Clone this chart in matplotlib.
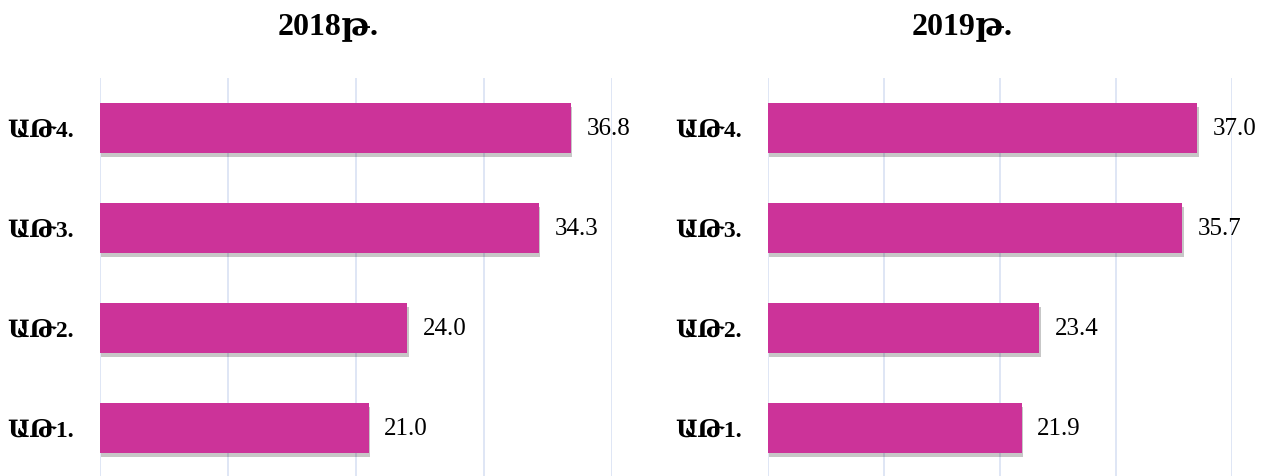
import matplotlib
matplotlib.use("Agg")
import matplotlib.pyplot as plt
import matplotlib.patheffects as pe

# data
categories = ["ԱԹ1.", "ԱԹ2.", "ԱԹ3.", "ԱԹ4."]
values_2018 = [21.0, 24.0, 34.3, 36.8]
values_2019 = [21.9, 23.4, 35.7, 37.0]
titles = ["2018թ.", "2019թ."]
x_ticks = [0, 10, 20, 30, 40]

plt.rcParams["font.family"] = ["Liberation Serif", "DejaVu Serif"]

BAR_COLOR = "#CC3399"
GRID_COLOR = "#D9E2F3"

fig = plt.figure(figsize=(12.66, 4.77), dpi=100)
W, H = 1266, 477

panels = [
    (100, 612, 328, values_2018, titles[0]),
    (768, 1232, 962, values_2019, titles[1]),
]

for x0, x1, tx, vals, title in panels:
    ax = fig.add_axes([x0 / W, 0.0, (x1 - x0) / W, (H - 79) / H])
    ypos = list(range(len(categories)))
    bars = ax.barh(ypos, vals, height=0.5, color=BAR_COLOR, zorder=3)
    for b in bars:
        b.set_path_effects([pe.SimplePatchShadow(offset=(1.0, -3.0), shadow_rgbFace="#000000", alpha=0.22),
                            pe.Normal()])
    ax.set_xlim(0, 40)
    ax.set_ylim(-0.48, 3.5)
    ax.set_xticks(x_ticks)
    ax.xaxis.grid(True, color=GRID_COLOR, linewidth=1.2, zorder=0)
    ax.set_xticklabels([])
    ax.tick_params(axis="x", length=0)
    ax.set_yticks(ypos)
    ax.set_yticklabels(categories, fontsize=17, fontweight="bold")
    ax.tick_params(axis="y", length=0, pad=19)
    for s in ax.spines.values():
        s.set_visible(False)
    for y, v in zip(ypos, vals):
        ax.annotate(f"{v:.1f}", (v, y), xytext=(11, 0), textcoords="offset points",
                    va="center", ha="left", fontsize=18)
    fig.text(tx / W, 1 - 27 / H, title, ha="center", va="center", fontsize=23, fontweight="bold")

fig.savefig("out.png", dpi=100)
